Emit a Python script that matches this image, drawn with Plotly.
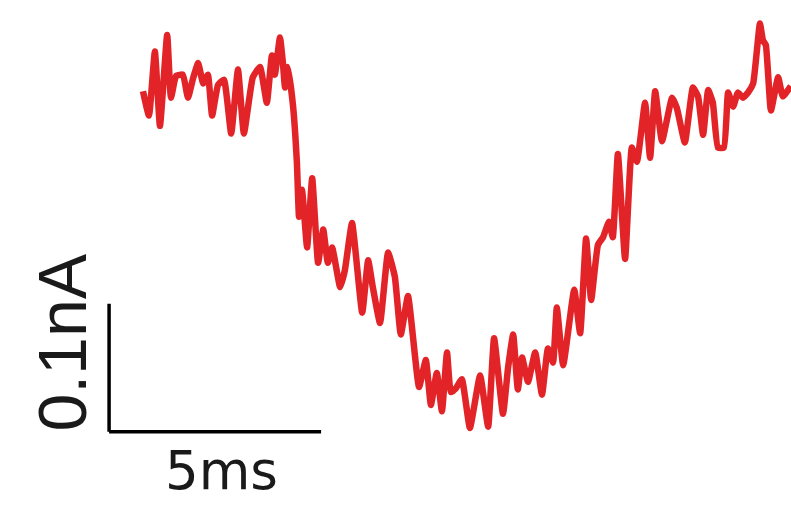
import plotly.graph_objects as go

# Whole-cell current trace (time in ms, current in nA)
time_ms = [
    0.00, 0.14, 0.28, 0.40, 0.57, 0.66, 0.78, 0.94, 1.06, 1.18,
    1.30, 1.42, 1.53, 1.63, 1.77, 1.91, 2.08, 2.24, 2.38, 2.59,
    2.76, 2.92, 3.04, 3.11, 3.23, 3.30, 3.35, 3.42, 3.54, 3.63,
    3.68, 3.75, 3.87, 3.99, 4.13, 4.25, 4.36, 4.46, 4.65, 4.76,
    4.93, 5.17, 5.31, 5.42, 5.59, 5.78, 5.94, 6.08, 6.25, 6.51,
    6.67, 6.79, 6.93, 7.05, 7.17, 7.26, 7.38, 7.52, 7.71, 7.95,
    8.14, 8.28, 8.49, 8.61, 8.73, 8.84, 8.94, 9.08, 9.25, 9.41,
    9.55, 9.67, 9.76, 9.91, 10.17, 10.31, 10.45, 10.57, 10.73, 10.85,
    10.99, 11.08, 11.20, 11.37, 11.53, 11.65, 11.84, 11.96, 12.08, 12.24,
    12.48, 12.59, 12.78, 12.97, 13.09, 13.21, 13.33, 13.44, 13.56, 13.70,
    13.80, 13.92, 14.03, 14.15, 14.27, 14.39, 14.55, 14.62, 14.69, 14.81,
    14.98, 15.09, 15.28,
]
current_nA = [
    -0.001, -0.020, 0.030, -0.028, 0.043, -0.006, 0.011, 0.012, -0.006, 0.009,
    0.021, 0.005, 0.012, -0.020, 0.004, 0.008, -0.034, 0.016, -0.034, 0.010,
    0.018, -0.010, 0.027, 0.012, 0.041, 0.021, 0.002, 0.018, -0.013, -0.057,
    -0.099, -0.078, -0.123, -0.069, -0.135, -0.109, -0.135, -0.123, -0.154, -0.141,
    -0.104, -0.174, -0.133, -0.154, -0.182, -0.127, -0.146, -0.191, -0.161, -0.232,
    -0.211, -0.246, -0.221, -0.251, -0.205, -0.236, -0.233, -0.226, -0.264, -0.223,
    -0.263, -0.194, -0.253, -0.217, -0.191, -0.234, -0.209, -0.228, -0.205, -0.238,
    -0.202, -0.213, -0.170, -0.215, -0.156, -0.190, -0.116, -0.164, -0.121, -0.115,
    -0.103, -0.115, -0.050, -0.132, -0.045, -0.056, -0.010, -0.053, -0.001, -0.040,
    -0.006, -0.014, -0.041, 0.002, -0.005, -0.035, 0.000, -0.010, -0.045, -0.045,
    -0.002, -0.013, -0.002, -0.006, -0.002, 0.005, 0.052, 0.039, 0.035, -0.016,
    0.010, -0.005, 0.003,
]

# Scale bar sizes and labels
scale_time_ms = 5
scale_current_nA = 0.1
scale_time_label = "5ms"
scale_current_label = "0.1nA"

# Scale bar corner (data units)
bar_x0 = -0.80
bar_y0 = -0.267

trace_color = "rgb(226, 36, 40)"

fig = go.Figure()
fig.add_trace(go.Scatter(
    x=time_ms, y=current_nA, mode="lines",
    line=dict(color=trace_color, width=6.5, shape="spline", smoothing=0.4),
    hoverinfo="skip", showlegend=False,
))

# L-shaped scale bar
fig.add_shape(type="line", xref="x", yref="y",
              x0=bar_x0, y0=bar_y0, x1=bar_x0 + scale_time_ms, y1=bar_y0,
              line=dict(color="black", width=3.5))
fig.add_shape(type="line", xref="x", yref="y",
              x0=bar_x0, y0=bar_y0, x1=bar_x0, y1=bar_y0 + scale_current_nA,
              line=dict(color="black", width=3.5))

fig.add_annotation(x=bar_x0 + scale_time_ms / 2 + 0.15, y=bar_y0 - 0.030,
                   xref="x", yref="y", text=scale_time_label, showarrow=False,
                   xanchor="center", yanchor="middle",
                   font=dict(family="DejaVu Sans", size=53, color="#1a1a1a"))
fig.add_annotation(x=-1.90, y=bar_y0 + 0.07,
                   xref="x", yref="y", text=scale_current_label, showarrow=False,
                   textangle=-90, xanchor="center", yanchor="middle",
                   font=dict(family="Liberation Sans", size=68, color="#1a1a1a"))

fig.update_xaxes(visible=False, range=[-3.3726, 15.283], fixedrange=True)
fig.update_yaxes(visible=False, range=[-0.325, 0.0703], fixedrange=True)
fig.update_layout(
    width=791, height=506,
    margin=dict(l=0, r=0, t=0, b=0),
    paper_bgcolor="white", plot_bgcolor="white",
)

fig.write_html("out.html")
